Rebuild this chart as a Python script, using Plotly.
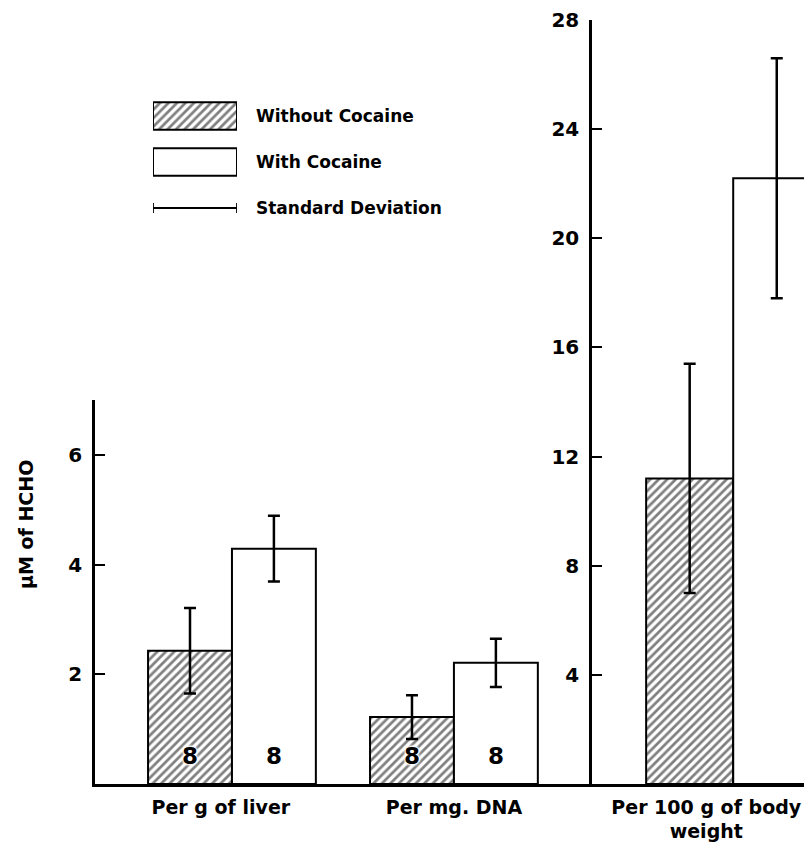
import plotly.graph_objects as go

# ---- data ----
categories_left = ["Per g of liver", "Per mg. DNA"]
without_left = [2.43, 1.22]
sd_without_left = [0.78, 0.40]
with_left = [4.29, 2.21]
sd_with_left = [0.60, 0.44]
n_left = ["8", "8"]

categories_right = ["Per 100 g of body<br>weight"]
without_right = [11.2]
sd_without_right = [4.2]
with_right = [22.2]
sd_with_right = [4.4]

legend_labels = ["Without Cocaine", "With Cocaine", "Standard Deviation"]
left_ticks = [2, 4, 6]
right_ticks = [4, 8, 12, 16, 20, 24, 28]

FONT = "DejaVu Sans"
hatch = dict(shape="/", fgcolor="black", bgcolor="white", size=6, solidity=0.45)
open_pat = dict(shape="", bgcolor="white")
outline = dict(color="black", width=2)
err_style = dict(type="data", color="black", thickness=2.5, width=6, visible=True)
shadow = "0 0 2px white, 0 0 2px white, 0 0 3px white, 0 0 3px white, 0 0 4px white"

# n labels lifted a little above the bar base (small non-breaking blank second line)
n_text = [f"<span style='font-size:23px'>{n}</span><br>\u00a0" for n in n_left]

fig = go.Figure()

fig.add_trace(go.Bar(
    x=categories_left, y=without_left, xaxis="x", yaxis="y",
    marker=dict(color="white", pattern=hatch, line=outline),
    error_y=dict(array=sd_without_left, **err_style),
    text=n_text, textposition="inside", insidetextanchor="start",
    textfont=dict(family=FONT, size=11, color="black", weight="bold", shadow=shadow),
    textangle=0,
))
fig.add_trace(go.Bar(
    x=categories_left, y=with_left, xaxis="x", yaxis="y",
    marker=dict(color="white", pattern=open_pat, line=outline),
    error_y=dict(array=sd_with_left, **err_style),
    text=n_text, textposition="inside", insidetextanchor="start",
    textfont=dict(family=FONT, size=11, color="black", weight="bold"),
    textangle=0,
))
fig.add_trace(go.Bar(
    x=categories_right, y=without_right, xaxis="x2", yaxis="y2",
    marker=dict(color="white", pattern=hatch, line=outline),
    error_y=dict(array=sd_without_right, **err_style),
))
fig.add_trace(go.Bar(
    x=categories_right, y=with_right, xaxis="x2", yaxis="y2",
    marker=dict(color="white", pattern=open_pat, line=outline),
    error_y=dict(array=sd_with_right, **err_style),
))

# legend key, drawn in its own small subplot
fig.add_trace(go.Bar(
    y=legend_labels[:2], x=[1, 1], orientation="h", xaxis="x3", yaxis="y3",
    width=0.6,
    marker=dict(color="white", pattern=dict(shape=["/", ""], fgcolor="black",
                                             bgcolor="white", size=6, solidity=0.45),
                line=outline),
))
fig.add_trace(go.Scatter(
    y=legend_labels[2:], x=[0.5], xaxis="x3", yaxis="y3", mode="markers",
    marker=dict(size=1, color="black"),
    error_x=dict(type="data", array=[0.5], color="black", thickness=1.8, width=5),
))

# The page adds an 8px body margin; figure sized so it ends at the window edge.
OFF = 8
W, H = 812 - OFF, 842 - OFF
BASE = 784                      # page y of the zero baseline
TOP = 20                        # page y of the right axis top
mt, mb = TOP - OFF, H - (BASE - OFF)
ph = H - mt - mb


def px_x(px):
    return (px - OFF) / W


def py(px):
    return (BASE - px) / ph


tickfont = dict(family=FONT, size=20, color="black", weight="bold")
catfont = dict(family=FONT, size=19, color="black", weight="bold")
legfont = dict(family=FONT, size=17, color="black", weight="bold")

fig.update_layout(
    width=W, height=H,
    margin=dict(l=0, r=0, t=mt, b=mb, autoexpand=False),
    paper_bgcolor="white", plot_bgcolor="white",
    showlegend=False,
    barmode="group", bargap=0.244, bargroupgap=0,
    font=dict(family=FONT, color="black"),
    xaxis=dict(domain=[px_x(95), px_x(592)], type="category", range=[-0.617, 1.622],
               tickmode="array", tickvals=[-0.05, 1], ticktext=categories_left,
               showline=True, linecolor="black", linewidth=2.5, ticks="",
               showgrid=False, zeroline=False, tickfont=catfont, anchor="y",
               ticklabelstandoff=4, automargin=False),
    yaxis=dict(domain=[0, py(400)], range=[0, 7], tickvals=left_ticks,
               showline=True, linecolor="black", linewidth=2.5, ticks="inside",
               ticklen=10, tickwidth=2, tickcolor="black", showgrid=False,
               zeroline=False, tickfont=tickfont, anchor="x", ticklabelstandoff=6,
               automargin=False),
    xaxis2=dict(domain=[px_x(592), 1], type="category", range=[-0.613, 0.342],
                tickmode="array", tickvals=[-0.117], ticktext=categories_right,
                showline=True, linecolor="black", linewidth=2.5, ticks="",
                showgrid=False, zeroline=False, tickfont=catfont, anchor="y2",
                ticklabelstandoff=4, automargin=False),
    yaxis2=dict(domain=[0, 1], range=[0, 28], tickvals=right_ticks,
                showline=True, linecolor="black", linewidth=2.5, ticks="inside",
                ticklen=10, tickwidth=2, tickcolor="black", showgrid=False,
                zeroline=False, tickfont=tickfont, anchor="x2", ticklabelstandoff=6,
                automargin=False),
    xaxis3=dict(domain=[px_x(153), px_x(237)], range=[0, 1], visible=False, anchor="y3",
                automargin=False),
    yaxis3=dict(domain=[py(231), py(93)], type="category", categoryorder="array",
                categoryarray=legend_labels, range=[2.5, -0.5], side="right",
                showline=False, ticks="", showgrid=False, zeroline=False,
                tickfont=legfont, anchor="x3", ticklabelstandoff=18,
                automargin=False),
    annotations=[dict(
        text="µM of HCHO", xref="paper", yref="paper", x=px_x(26), y=py(525),
        xanchor="center", yanchor="middle",
        textangle=-90, showarrow=False,
        font=dict(family=FONT, size=19, color="black", weight="bold"),
    )],
)

fig.write_html("out.html")
